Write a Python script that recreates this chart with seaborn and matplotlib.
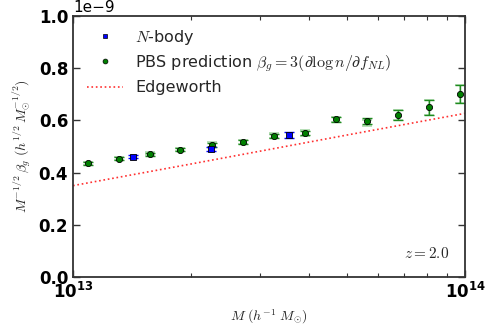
import numpy as np
import pandas as pd
import matplotlib
matplotlib.use("Agg")
import matplotlib.pyplot as plt
import seaborn as sns
from matplotlib.lines import Line2D

# PBS prediction points
pbs_mass = [1.09e13, 1.31e13, 1.57e13, 1.88e13, 2.26e13, 2.71e13, 3.25e13,
            3.90e13, 4.68e13, 5.62e13, 6.74e13, 8.09e13, 9.71e13]
pbs_val = [0.436, 0.453, 0.470, 0.487, 0.506, 0.516, 0.539,
           0.553, 0.604, 0.597, 0.621, 0.650, 0.700]
pbs_err = [0.005, 0.005, 0.005, 0.006, 0.007, 0.008, 0.008,
           0.008, 0.010, 0.012, 0.020, 0.028, 0.034]
# lighter second set of error bars
pbs_alt_val = [0.436, 0.454, 0.472, 0.488, 0.509, 0.518, 0.541,
               0.552, 0.604, 0.590, 0.620, 0.650, 0.700]
pbs_alt_err = [0.006, 0.006, 0.006, 0.007, 0.010, 0.008, 0.010,
               0.012, 0.010, 0.012, 0.020, 0.028, 0.034]

# N-body points
nbody_mass = [1.42e13, 2.25e13, 3.55e13]
nbody_val = [0.461, 0.489, 0.544]
nbody_err = [0.007, 0.008, 0.010]

# Edgeworth curve
edge_mass = [1.0e13, 2.0e13, 5.0e13, 1.0e14]
edge_val = [0.350, 0.433, 0.544, 0.627]

scale = 1e-9

sns.set_style("ticks")
plt.rcParams['mathtext.fontset'] = 'cm'
plt.rcParams['font.family'] = ['DejaVu Sans']

fig = plt.figure(figsize=(4.91, 3.27), dpi=100)
ax = fig.add_axes([0.1487, 0.153, 0.7985, 0.798])

edge = pd.DataFrame({'M': edge_mass, 'v': np.array(edge_val) * scale})
sns.lineplot(data=edge, x='M', y='v', ax=ax, color='#ff3030', linestyle=':',
             linewidth=1.2, legend=False)

ax.errorbar(pbs_mass, np.array(pbs_alt_val) * scale,
            yerr=np.array(pbs_alt_err) * scale, fmt='none',
            ecolor='#2ca02c', alpha=0.4, capsize=3.5, elinewidth=1.2, capthick=1.2)
ax.errorbar(pbs_mass, np.array(pbs_val) * scale,
            yerr=np.array(pbs_err) * scale, fmt='none',
            ecolor='#1f8a1f', capsize=3.5, elinewidth=1.0, capthick=1.0)
ax.errorbar(nbody_mass, np.array(nbody_val) * scale,
            yerr=np.array(nbody_err) * scale, fmt='none',
            ecolor='blue', capsize=3.5, elinewidth=1.0, capthick=1.0)

pbs = pd.DataFrame({'M': pbs_mass, 'v': np.array(pbs_val) * scale})
nb = pd.DataFrame({'M': nbody_mass, 'v': np.array(nbody_val) * scale})
sns.scatterplot(data=pbs, x='M', y='v', ax=ax, marker='o', s=20,
                color='green', edgecolor='black', linewidth=0.6, zorder=5)
sns.scatterplot(data=nb, x='M', y='v', ax=ax, marker='s', s=18,
                color='blue', edgecolor='black', linewidth=0.6, zorder=5)

ax.set_xscale('log')
ax.set_xlim(1e13, 1e14)
ax.set_ylim(0, 1e-9)
ax.set_yticks(np.arange(0, 1.01, 0.2) * scale)

ax.set_xlabel(r'$M\ (h^{-1}\ M_{\odot})$', fontsize=10)
ax.set_ylabel(r'$M^{-1/2}\,\beta_g\ (h^{1/2}\,M_{\odot}^{-1/2})$', fontsize=10)

ax.tick_params(axis='both', which='both', direction='in', top=True, right=True,
               labelsize=12, colors='#333333', labelcolor='black')
ax.tick_params(axis='both', which='major', length=5, width=1)
ax.tick_params(axis='both', which='minor', length=3, width=0.8)
ax.yaxis.get_offset_text().set_fontsize(11)
for lbl in ax.get_xticklabels(which='both') + ax.get_yticklabels():
    lbl.set_fontweight('bold')
for sp in ax.spines.values():
    sp.set_color('#333333')
    sp.set_linewidth(1.3)

handles = [
    Line2D([], [], marker='s', color='blue', markeredgecolor='black',
           markeredgewidth=0.5, linestyle='none', markersize=3.5),
    Line2D([], [], marker='o', color='green', markeredgecolor='black',
           markeredgewidth=0.5, linestyle='none', markersize=3.5),
    Line2D([], [], color='#ff3030', linestyle=':', linewidth=1.2),
]
labels = [r'$N$-body',
          r'PBS prediction $\beta_g = 3(\partial \log n / \partial f_{NL})$',
          'Edgeworth']
ax.legend(handles, labels, loc='upper left', frameon=False, fontsize=11.5,
          numpoints=1, handlelength=2.2, labelspacing=0.4,
          bbox_to_anchor=(0.0, 1.01))

ax.text(0.96, 0.06, r'$z=2.0$', transform=ax.transAxes, ha='right',
        va='bottom', fontsize=11)

fig.savefig('out.png', dpi=100)
